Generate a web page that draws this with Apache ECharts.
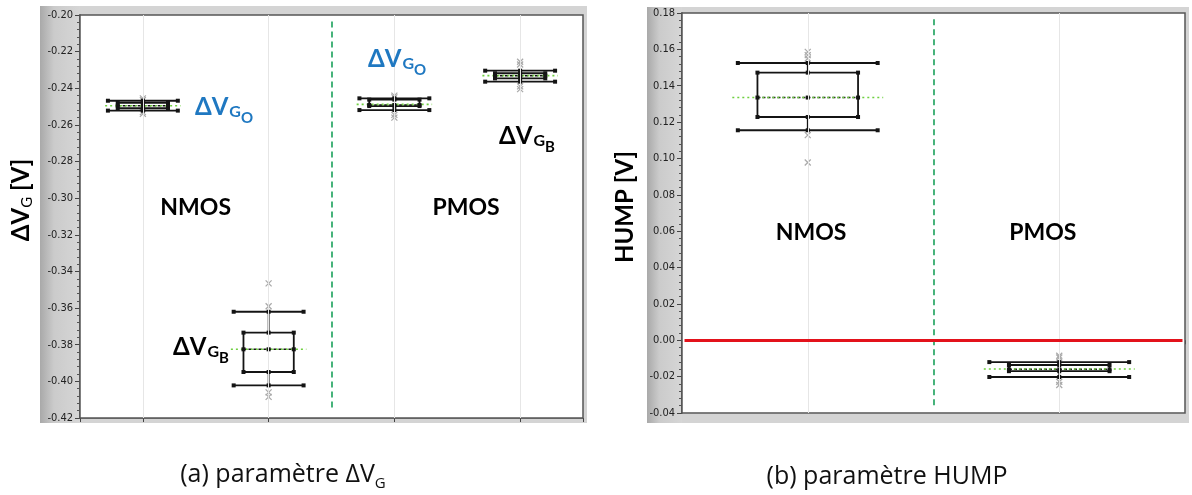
<!DOCTYPE html>
<html><head><meta charset="utf-8">
<script src="https://cdn.jsdelivr.net/npm/echarts@6/dist/echarts.min.js"></script>
<style>html,body{margin:0;padding:0;background:#fff;}#c{width:1192px;height:495px;}</style>
</head><body><div id="c"></div>
<script>
// ================= DATA =================
// (a) ΔVG chart : box positions 1..4 on the x scale
const leftPositions   = [1, 2, 3, 4];
const leftCategories  = ['NMOS ΔVGO', 'NMOS ΔVGB', 'PMOS ΔVGO', 'PMOS ΔVGB'];
const leftWhiskerLow  = [-0.2522, -0.4022, -0.2519, -0.2364];
const leftQ1          = [-0.2509, -0.3949, -0.2497, -0.2346];
const leftMedian      = [-0.2495, -0.3825, -0.2491, -0.2331];
const leftQ3          = [-0.2480, -0.3734, -0.2462, -0.2318];
const leftWhiskerHigh = [-0.2468, -0.3620, -0.2455, -0.2304];
const leftMean        = [-0.2495, -0.3825, -0.2488, -0.2331];
const leftOutliers    = [
  [-0.2455, -0.2465, -0.2530, -0.2540],
  [-0.3465, -0.3590, -0.4060, -0.4085],
  [-0.2440, -0.2450, -0.2545, -0.2560],
  [-0.2255, -0.2270, -0.2390, -0.2405]
];
const leftYMin = -0.42, leftYMax = -0.20, leftYStep = 0.02;
const leftDivider = 2.5;

// (b) HUMP chart : box positions 1..2
const rightPositions   = [1, 2];
const rightCategories  = ['NMOS', 'PMOS'];
const rightWhiskerLow  = [0.1155, -0.0202];
const rightQ1          = [0.1228, -0.0170];
const rightMedian      = [0.1335, -0.0160];
const rightQ3          = [0.1472, -0.0136];
const rightWhiskerHigh = [0.1525, -0.0120];
const rightMean        = [0.1335, -0.0158];
const rightOutliers    = [
  [0.1586, 0.1568, 0.1550, 0.1128, 0.0978],
  [-0.0085, -0.0095, -0.0228, -0.0246]
];
const rightYMin = -0.04, rightYMax = 0.18, rightYStep = 0.02;
const rightDivider = 1.5;
const rightZeroLine = 0;

// annotation texts (data coordinates of their anchor)
const leftNotesX    = [1.414, 2.790, 1.240, 3.832];
const leftNotesY    = [-0.2437, -0.2175, -0.3747, -0.2595];
const leftNotesSub  = ['O', 'O', 'B', 'B'];
const leftNotesBlue = [true, true, false, false];
const leftGroupX = [1.42, 3.57], leftGroupY = [-0.3054, -0.3054], leftGroupText = ['NMOS', 'PMOS'];
const rightGroupX = [1.013, 1.935], rightGroupY = [0.0595, 0.0595], rightGroupText = ['NMOS', 'PMOS'];

// ================= RENDERING =================
const INK = '#141414';
const BLUE = '#1f78c1';
const FONT = 'Lato, "Open Sans", sans-serif';
const TICKFONT = '"Liberation Sans Narrow", "DejaVu Sans Condensed", "Liberation Sans", sans-serif';

function boxData(pos, wl, q1, med, q3, wh, mean) {
  return pos.map((p, i) => [p, wl[i], q1[i], med[i], q3[i], wh[i], mean[i]]);
}
function outlierData(pos, outs) {
  const d = [];
  pos.forEach((p, i) => outs[i].forEach(v => d.push([p, v])));
  return d;
}

function boxRender(params, api) {
  const x = api.value(0);
  const wl = api.value(1), q1 = api.value(2), med = api.value(3), q3 = api.value(4), wh = api.value(5), mean = api.value(6);
  const unit = api.size([1, 0])[0];
  const cx = api.coord([x, med])[0];
  const Y = v => api.coord([x, v])[1];
  const capH = unit * 0.278, boxH = unit * 0.2, meanH = unit * 0.3;
  const L = (x1, y1, x2, y2, st) => ({ type: 'line', shape: { x1, y1, x2, y2 }, style: Object.assign({ stroke: INK, lineWidth: 1.8 }, st || {}) });
  const dot = (px, py) => ({ type: 'rect', shape: { x: px - 2, y: py - 2, width: 4, height: 4 }, style: { fill: INK } });
  const yWl = Y(wl), yQ1 = Y(q1), yMed = Y(med), yQ3 = Y(q3), yWh = Y(wh), yMean = Y(mean);
  const ch = [
    L(cx, yWh, cx, yQ3),
    L(cx, yQ1, cx, yWl),
    L(cx - capH, yWh, cx + capH, yWh),
    L(cx - capH, yWl, cx + capH, yWl),
    { type: 'rect', shape: { x: cx - boxH, y: yQ3, width: 2 * boxH, height: yQ1 - yQ3 }, style: { fill: 'rgba(0,0,0,0)', stroke: INK, lineWidth: 1.8 } },
    L(cx - boxH, yMed, cx + boxH, yMed, { lineDash: [3, 2], lineWidth: 1.5 }),
    L(cx - meanH, yMean, cx + meanH, yMean, { stroke: '#6fd040', lineDash: [2, 3], lineWidth: 1.6 })
  ];
  [[cx - capH, yWh], [cx, yWh], [cx + capH, yWh], [cx - capH, yWl], [cx, yWl], [cx + capH, yWl],
   [cx - boxH, yQ3], [cx, yQ3], [cx + boxH, yQ3], [cx - boxH, yQ1], [cx, yQ1], [cx + boxH, yQ1],
   [cx - boxH, yMed], [cx, yMed], [cx + boxH, yMed]].forEach(p => ch.push(dot(p[0], p[1])));
  return { type: 'group', children: ch };
}
function outlierRender(params, api) {
  const p = api.coord([api.value(0), api.value(1)]);
  const s = 3;
  const st = { stroke: '#a9a9a9', lineWidth: 1.2 };
  return { type: 'group', children: [
    { type: 'line', shape: { x1: p[0] - s, y1: p[1] - s, x2: p[0] + s, y2: p[1] + s }, style: st },
    { type: 'line', shape: { x1: p[0] - s, y1: p[1] + s, x2: p[0] + s, y2: p[1] - s }, style: st }
  ] };
}

const rich = {
  bm: { fontFamily: FONT, fontWeight: 'bold', fontSize: 24, fill: BLUE, verticalAlign: 'top' },
  bs: { fontFamily: FONT, fontWeight: 'bold', fontSize: 16, fill: BLUE, verticalAlign: 'top', padding: [9, 0, 0, 1] },
  bss:{ fontFamily: FONT, fontWeight: 'bold', fontSize: 15, fill: BLUE, verticalAlign: 'top', padding: [16, 0, 0, 0] },
  km: { fontFamily: FONT, fontWeight: 'bold', fontSize: 24, fill: '#000', verticalAlign: 'top' },
  ks: { fontFamily: FONT, fontWeight: 'bold', fontSize: 16, fill: '#000', verticalAlign: 'top', padding: [9, 0, 0, 1] },
  kss:{ fontFamily: FONT, fontWeight: 'bold', fontSize: 15, fill: '#000', verticalAlign: 'top', padding: [16, 0, 0, 0] },
  g:  { fontFamily: FONT, fontWeight: 'bold', fontSize: 23, fill: '#000' }
};

// text series: texts[i] drawn at the data coordinate of point i
function textSeries(xi, xs, ys, texts, align, vAlign) {
  return { type: 'custom', xAxisIndex: xi, yAxisIndex: xi, silent: true, z: 6,
    data: xs.map((x, i) => [x, ys[i]]),
    renderItem: (params, api) => {
      const p = api.coord([api.value(0), api.value(1)]);
      return { type: 'text', x: p[0], y: p[1],
        style: { text: texts[params.dataIndex], rich, align, verticalAlign: vAlign, fill: '#000' } };
    } };
}
const leftNoteTexts = leftNotesSub.map((s, i) => {
  const c = leftNotesBlue[i] ? 'b' : 'k';
  return '{' + c + 'm|ΔV}{' + c + 's|G}{' + c + 'ss|' + s + '}';
});
const groupTexts = t => t.map(s => '{g|' + s + '}');

function yAxisCfg(gi, min, max, step) {
  return { type: 'value', gridIndex: gi, min, max, interval: step,
    axisLine: { show: true, lineStyle: { color: '#333', width: 1.5 } },
    axisTick: { show: true, length: 5, lineStyle: { color: '#444' } },
    minorTick: { show: true, splitNumber: 5, length: 3, lineStyle: { color: '#555' } },
    axisLabel: { fontFamily: TICKFONT, fontSize: 11, color: '#222', margin: 7, formatter: v => v.toFixed(2) },
    splitLine: { show: true, lineStyle: { color: '#e6e6e6', width: 1 } } };
}
function xAxisCfg(gi, n) {
  const ticks = [0.5];
  for (let i = 1; i <= n; i++) ticks.push(i);
  ticks.push(n + 0.5);
  return { type: 'value', gridIndex: gi, min: 0.5, max: n + 0.5,
    axisLine: { show: true, lineStyle: { color: '#888', width: 1 } },
    axisTick: { show: true, length: 4, customValues: ticks, lineStyle: { color: '#444' } },
    axisLabel: { show: false }, splitLine: { show: false } };
}
function vGrid(positions) {
  return positions.map(p => ({ xAxis: p }));
}

const panelGrad = { type: 'linear', x: 0, y: 0, x2: 1, y2: 0, colorStops: [
  { offset: 0, color: '#a9a9a9' }, { offset: 0.35, color: '#cbcbcb' }, { offset: 1, color: '#d6d6d6' }] };

const option = {
  animation: false,
  backgroundColor: '#ffffff',
  grid: [
    { left: 80, top: 15, width: 503, height: 403, show: true, backgroundColor: '#fff', borderColor: '#555', borderWidth: 1.5, z: 1 },
    { left: 682, top: 13, width: 503, height: 400, show: true, backgroundColor: '#fff', borderColor: '#555', borderWidth: 1.5, z: 1 }
  ],
  xAxis: [xAxisCfg(0, leftPositions.length), xAxisCfg(1, rightPositions.length)],
  yAxis: [yAxisCfg(0, leftYMin, leftYMax, leftYStep), yAxisCfg(1, rightYMin, rightYMax, rightYStep)],
  graphic: [
    { type: 'rect', z: -10, shape: { x: 40, y: 6, width: 547, height: 417 }, style: { fill: '#d4d4d4' } },
    { type: 'rect', z: -9, shape: { x: 40, y: 6, width: 40, height: 417 }, style: { fill: panelGrad } },
    { type: 'rect', z: -10, shape: { x: 647, y: 7, width: 542, height: 416 }, style: { fill: '#d4d4d4' } },
    { type: 'rect', z: -9, shape: { x: 647, y: 7, width: 35, height: 416 }, style: { fill: panelGrad } },
    { type: 'text', x: 22, y: 200, rotation: Math.PI / 2, z: 10,
      style: { text: '{a|ΔV}{b|G}{a| [V]}', align: 'center', verticalAlign: 'middle',
        rich: { a: { fontFamily: FONT, fontWeight: 'bold', fontSize: 24, fill: '#000', verticalAlign: 'top' },
                b: { fontFamily: FONT, fontSize: 15, fill: '#000', verticalAlign: 'top', padding: [11, 0, 0, 0] } } } },
    { type: 'text', x: 625, y: 207, rotation: Math.PI / 2, z: 10,
      style: { text: 'HUMP [V]', align: 'center', verticalAlign: 'middle', fontFamily: FONT, fontWeight: 'bold', fontSize: 24, fill: '#000' } },
    { type: 'text', x: 283, y: 477, z: 10,
      style: { text: '{a|(a) paramètre ΔV}{b|G}', align: 'center', verticalAlign: 'middle',
        rich: { a: { fontFamily: '"Open Sans", sans-serif', fontSize: 25, fill: '#111', verticalAlign: 'top' },
                b: { fontFamily: '"Open Sans", sans-serif', fontSize: 15, fill: '#111', verticalAlign: 'top', padding: [14, 0, 0, 0] } } } },
    { type: 'text', x: 887, y: 477, z: 10,
      style: { text: '(b) paramètre HUMP', align: 'center', verticalAlign: 'middle', fontFamily: '"Open Sans", sans-serif', fontSize: 25, fill: '#111' } }
  ],
  series: [
    // left chart
    { type: 'custom', xAxisIndex: 0, yAxisIndex: 0, renderItem: outlierRender, data: outlierData(leftPositions, leftOutliers), z: 2, silent: true,
      markLine: { silent: true, symbol: 'none', label: { show: false }, lineStyle: { color: '#e6e6e6', type: 'solid', width: 1 }, data: vGrid(leftPositions) } },
    { type: 'custom', xAxisIndex: 0, yAxisIndex: 0, renderItem: boxRender, z: 3, silent: true,
      data: boxData(leftPositions, leftWhiskerLow, leftQ1, leftMedian, leftQ3, leftWhiskerHigh, leftMean),
      markLine: { silent: true, symbol: 'none', label: { show: false }, lineStyle: { color: '#1aa05a', type: [6, 4], width: 1.6 },
        data: [[{ coord: [leftDivider, -0.2035] }, { coord: [leftDivider, -0.4155] }]] } },
    textSeries(0, leftNotesX, leftNotesY, leftNoteTexts, 'left', 'top'),
    textSeries(0, leftGroupX, leftGroupY, groupTexts(leftGroupText), 'center', 'middle'),
    // right chart
    { type: 'custom', xAxisIndex: 1, yAxisIndex: 1, renderItem: outlierRender, data: outlierData(rightPositions, rightOutliers), z: 2, silent: true,
      markLine: { silent: true, symbol: 'none', label: { show: false }, lineStyle: { color: '#e6e6e6', type: 'solid', width: 1 }, data: vGrid(rightPositions) } },
    { type: 'custom', xAxisIndex: 1, yAxisIndex: 1, renderItem: boxRender, z: 3, silent: true,
      data: boxData(rightPositions, rightWhiskerLow, rightQ1, rightMedian, rightQ3, rightWhiskerHigh, rightMean),
      markLine: { silent: true, symbol: 'none', label: { show: false },
        data: [
          [{ coord: [rightDivider, 0.1765], lineStyle: { color: '#1aa05a', type: [6, 4], width: 1.6 } }, { coord: [rightDivider, -0.0373] }],
          [{ coord: [0.51, rightZeroLine], lineStyle: { color: '#e3121b', type: 'solid', width: 3 } }, { coord: [2.49, rightZeroLine] }]
        ] } },
    textSeries(1, rightGroupX, rightGroupY, groupTexts(rightGroupText), 'center', 'middle')
  ]
};

const chart = echarts.init(document.getElementById('c'), null, { renderer: 'canvas' });
chart.setOption(option);
</script>
</body></html>
